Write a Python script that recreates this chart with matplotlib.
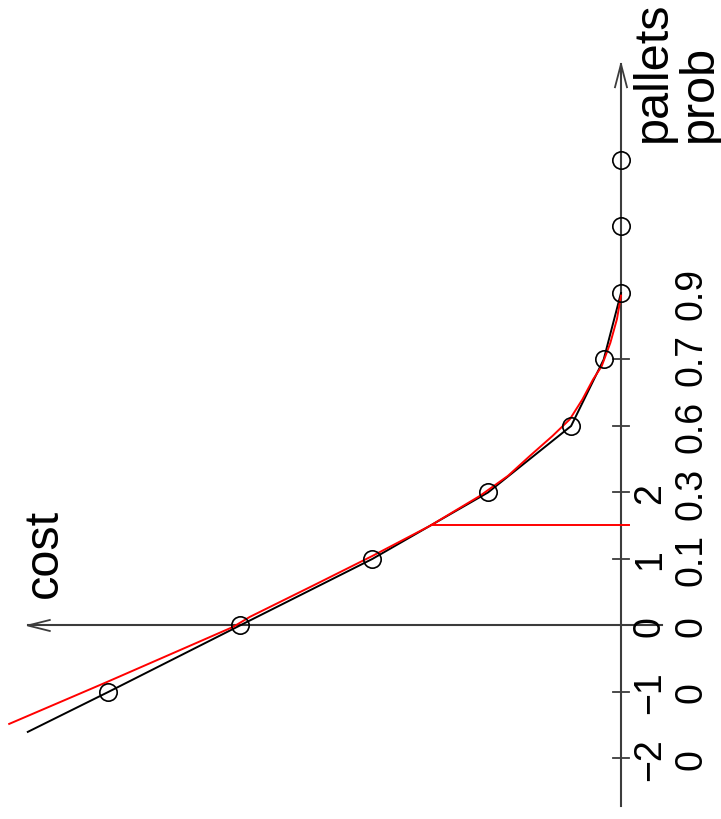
import matplotlib
matplotlib.use("Agg")
import matplotlib.pyplot as plt

plt.rcParams['font.family'] = ['Liberation Sans', 'DejaVu Sans']

# Discrete cost per number of pallets ordered
pallets = [-1, 0, 1, 2, 3, 4, 5, 6, 7]
cost = [7.71, 5.73, 3.74, 2.00, 0.75, 0.26, 0.0, 0.0, 0.0]

# Piecewise-linear cost line (starts a little before the first point)
line_pallets = [-1.6, -1, 0, 1, 2, 3, 4, 5]
line_cost = [8.92, 7.71, 5.73, 3.74, 2.00, 0.75, 0.26, 0.0]

# Smooth (continuous) cost curve
smooth_pallets = [-1.48, -0.85, -0.02, 0.13, 0.60, 1.05, 1.50, 1.95, 2.25,
                  2.55, 2.85, 3.10, 3.40, 3.70, 3.90, 4.25, 4.61, 4.96]
smooth_cost = [9.20, 7.73, 5.83, 5.58, 4.63, 3.73, 2.87, 2.12, 1.70,
               1.37, 1.03, 0.77, 0.58, 0.42, 0.29, 0.16, 0.06, 0.0]

# Marked level on the smooth curve
mark_pallets = 1.51
mark_cost = 2.86

# Axis tick labels
tick_pallets = [-2, -1, 0, 1, 2, 3, 4, 5]
pallet_labels = ['\u22122', '\u22121', '0', '1', '2', '', '', '']
prob_labels = ['0', '0', '0', '0.1', '0.3', '0.6', '0.7', '0.9']
tick_marks = [-2, -1, 1, 2, 3, 4]

fig = plt.figure(figsize=(7.21, 8.20), dpi=100)
ax = fig.add_axes([0, 0, 1, 1])
ax.set_axis_off()
# cost grows to the left, pallets grow upwards
ax.set_xlim(9.338, -1.504)
ax.set_ylim(-2.910, 9.421)

axis_col = '#3c3c3c'
u = 1 / 66.5  # one pixel in data units

# pallets axis (vertical) with arrow
p_lo, p_hi = -2.71, 8.44
ax.plot([0, 0], [p_lo, p_hi], color=axis_col, lw=1.5, zorder=1)
ax.plot([6 * u, 0, -6 * u], [p_hi - 23 * u, p_hi, p_hi - 23 * u], color=axis_col, lw=1.3)

# cost axis (horizontal) with arrow
c_lo, c_hi = -0.62, 8.92
ax.plot([c_lo, c_hi], [0, 0], color=axis_col, lw=1.5, zorder=1)
ax.plot([c_hi - 22 * u, c_hi, c_hi - 22 * u], [5.5 * u, 0, -5.5 * u], color=axis_col, lw=1.3)

# tick marks crossing the pallets axis
for t in tick_marks:
    ax.plot([8 * u, -8 * u], [t, t], color=axis_col, lw=1.3)

# tick labels
for t, pl, pr in zip(tick_pallets, pallet_labels, prob_labels):
    if pl:
        ax.text(-29 * u, t, pl, rotation=90, ha='center', va='center', fontsize=27)
    ax.text(-71 * u, t, pr, rotation=90, ha='center', va='center', fontsize=27)

# axis titles
ax.text(-32 * u, (626.5 - 142) * u, 'pallets', rotation=90, ha='center', va='bottom', fontsize=35)
ax.text(-78 * u, (626.5 - 142) * u, 'prob', rotation=90, ha='center', va='bottom', fontsize=35)
ax.text((621 - 44) * u, (626.5 - 598) * u, 'cost', rotation=90, ha='center', va='bottom', fontsize=35)

# curves
ax.plot(line_cost, line_pallets, color='black', lw=1.4, zorder=3)
ax.plot(smooth_cost, smooth_pallets, color='#ff0000', lw=1.4, zorder=4)
ax.plot([mark_cost, -8 * u], [mark_pallets, mark_pallets], color='#ff0000', lw=1.4, zorder=4)
ax.plot(cost, pallets, linestyle='none', marker='o', markersize=12.5,
        markerfacecolor='none', markeredgecolor='black', markeredgewidth=1.2, zorder=5)

fig.savefig('out.png', dpi=100)
